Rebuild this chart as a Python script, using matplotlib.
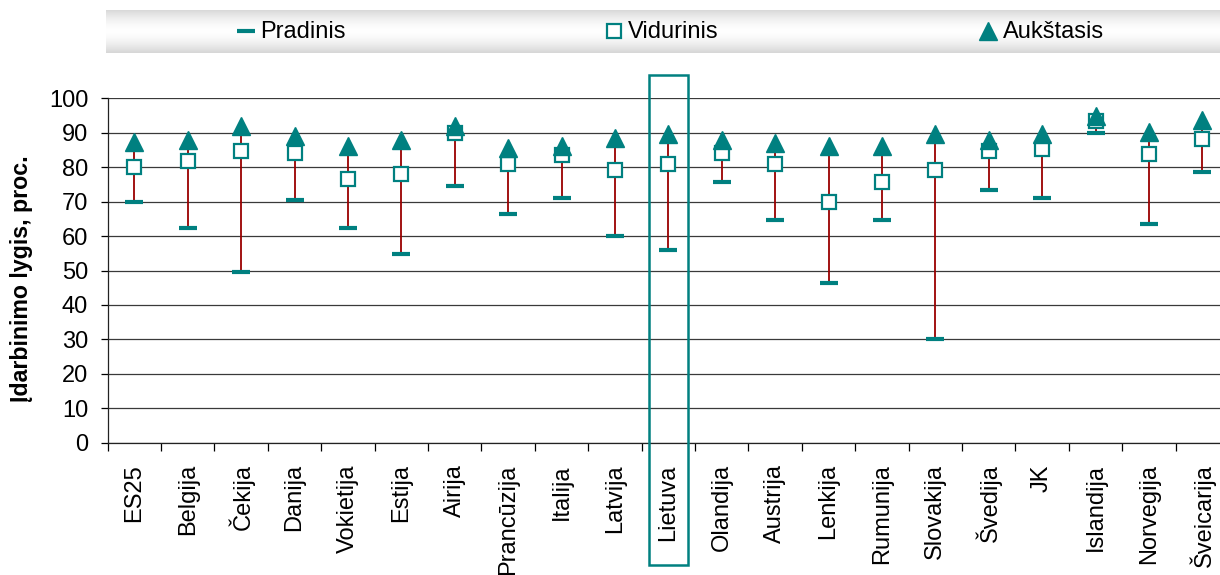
import numpy as np
import matplotlib
matplotlib.use("Agg")
import matplotlib.pyplot as plt
from matplotlib.patches import Rectangle

plt.rcParams['font.family'] = ['Liberation Sans', 'DejaVu Sans']

countries = ["ES25", "Belgija", "Čekija", "Danija", "Vokietija", "Estija", "Airija",
             "Prancūzija", "Italija", "Latvija", "Lietuva", "Olandija", "Austrija",
             "Lenkija", "Rumunija", "Slovakija", "Švedija", "JK", "Islandija",
             "Norvegija", "Šveicarija"]
pradinis = [69.9, 62.3, 49.7, 70.4, 62.3, 54.9, 74.4, 66.4, 71.0, 60.1, 56.0,
            75.6, 64.7, 46.3, 64.7, 30.1, 73.3, 71.0, 90.0, 63.5, 78.5]
vidurinis = [80.0, 81.9, 84.8, 84.1, 76.7, 77.9, 89.9, 80.8, 83.5, 79.1, 80.8,
             84.1, 80.8, 69.9, 75.6, 79.1, 84.7, 85.4, 93.4, 83.7, 88.3]
aukstasis = [87.2, 87.9, 92.0, 89.1, 86.2, 87.9, 92.0, 85.7, 86.2, 88.6, 89.7,
             87.9, 86.9, 86.2, 86.2, 89.7, 87.9, 89.7, 94.9, 90.3, 93.7]
series_names = ["Pradinis", "Vidurinis", "Aukštasis"]
highlight = "Lietuva"
yticks = list(range(0, 101, 10))
ylabel = "Įdarbinimo lygis, proc."

TEAL = "#008080"
RED = "#9A0000"
W, H = 1220, 575

fig = plt.figure(figsize=(W / 100, H / 100), dpi=100)
ax_left, ax_right = 107.6, 1229.0
ax_bot, ax_top = 442.7, 98.3
ax = fig.add_axes([ax_left / W, 1 - ax_bot / H, (ax_right - ax_left) / W, (ax_bot - ax_top) / H])

x = np.arange(len(countries))
ax.set_xlim(-0.5, len(countries) - 0.5)
ax.set_ylim(0, 100)

for yv in yticks:
    ax.axhline(yv, color="#3a3a3a", lw=0.9, zorder=1)

ax.vlines(x, pradinis, aukstasis, color=RED, lw=1.3, zorder=2)
ax.plot(x, pradinis, linestyle="none", marker="_", ms=12.5, mew=3.0, color=TEAL, zorder=3)
ax.plot(x, vidurinis, linestyle="none", marker="s", ms=10, mew=1.6, mec=TEAL, mfc="white", zorder=4)
ax.plot(x, aukstasis, linestyle="none", marker="^", ms=12.5, color=TEAL, mec=TEAL, zorder=5)

for s in ["top", "right"]:
    ax.spines[s].set_visible(False)
for s in ["left", "bottom"]:
    ax.spines[s].set_color("#222222")
    ax.spines[s].set_linewidth(0.9)

ax.set_yticks(yticks)
ax.tick_params(axis="y", direction="out", length=5, width=0.9, labelsize=17, pad=9, colors="#000000")
ax.set_xticks(x)
ax.set_xticklabels(countries, rotation=90, fontsize=17, va="top", ha="center")
ax.tick_params(axis="x", which="major", length=0, pad=15.5)
ax.set_xticks(np.arange(-0.5, len(countries), 1.0), minor=True)
ax.tick_params(axis="x", which="minor", direction="out", length=6, width=0.9)

fig.text(22 / W, 1 - 278.5 / H, ylabel, rotation=90, ha="center", va="center",
         fontsize=16.7, fontweight="bold")

# Highlight box around Lietuva
hi = countries.index(highlight)
bx_c = ax_left + (hi + 0.5) * (ax_right - ax_left) / len(countries)
rect = Rectangle(((bx_c - 19.5) / W, 1 - 565 / H), 39 / W, 490 / H, transform=fig.transFigure,
                 fill=False, edgecolor=TEAL, lw=1.8, zorder=10)
fig.patches.append(rect)

# Legend band with vertical gradient
lg = fig.add_axes([106 / W, 1 - 53 / H, (W - 106) / W, 43 / H])
t = np.linspace(0, 1, 100)
g = 1 - 0.16 * (np.abs(t - 0.5) * 2) ** 1.6
grad = np.repeat(g[:, None], 2, axis=1)
lg.imshow(np.dstack([grad, grad, grad]), aspect="auto", extent=[0, 1, 0, 1], origin="lower")
lg.set_xlim(0, 1)
lg.set_ylim(0, 1)
lg.axis("off")
def lx(px):
    return (px - 106) / (W - 106)
lg.plot([lx(245.5)], [0.5], marker="_", ms=12.5, mew=3.0, color=TEAL)
lg.text(lx(260), 0.5, series_names[0], fontsize=17, va="center", ha="left")
lg.plot([lx(614)], [0.5], marker="s", ms=10, mew=1.6, mec=TEAL, mfc="white")
lg.text(lx(628), 0.5, series_names[1], fontsize=17, va="center", ha="left")
lg.plot([lx(988)], [0.5], marker="^", ms=12.5, color=TEAL)
lg.text(lx(1003), 0.5, series_names[2], fontsize=17, va="center", ha="left")

fig.savefig("out.png", dpi=100)
